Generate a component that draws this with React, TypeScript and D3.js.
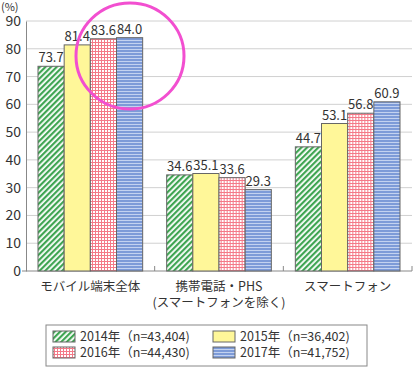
import React, { useEffect, useRef } from "react";
import * as d3 from "d3";

const categories = ["モバイル端末全体", "携帯電話・PHS\n(スマートフォンを除く)", "スマートフォン"];
const years = ["2014", "2015", "2016", "2017"];
const legendLabels = ["2014年（n=43,404)", "2015年（n=36,402)", "2016年（n=44,430)", "2017年（n=41,752)"];
const values2014 = [73.7, 34.6, 44.7];
const values2015 = [81.4, 35.1, 53.1];
const values2016 = [83.6, 33.6, 56.8];
const values2017 = [84.0, 29.3, 60.9];
const yTicks = [0, 10, 20, 30, 40, 50, 60, 70, 80, 90];

const FONT = "'Noto Sans CJK JP', 'Noto Sans', sans-serif";

export default function App() {
  const ref = useRef<SVGSVGElement>(null);

  useEffect(() => {
    const svg = d3.select(ref.current);
    svg.selectAll("*").remove();

    const width = 414;
    const height = 368;
    const margin = { top: 21, right: 2, bottom: 97, left: 26 };
    const innerHeight = height - margin.top - margin.bottom;

    const series = [values2014, values2015, values2016, values2017];
    const fills = ["url(#pGreen)", "#fff799", "url(#pRed)", "url(#pBlue)"];

    // patterns
    const defs = svg.append("defs");
    const pg = defs.append("pattern").attr("id", "pGreen").attr("patternUnits", "userSpaceOnUse")
      .attr("width", 4).attr("height", 4).attr("patternTransform", "rotate(45)");
    pg.append("rect").attr("width", 4).attr("height", 4).attr("fill", "#ffffff");
    pg.append("rect").attr("width", 2.2).attr("height", 4).attr("fill", "#3fa552");

    const pr = defs.append("pattern").attr("id", "pRed").attr("patternUnits", "userSpaceOnUse")
      .attr("width", 3).attr("height", 3);
    pr.append("rect").attr("width", 3).attr("height", 3).attr("fill", "#ffffff");
    pr.append("rect").attr("width", 3).attr("height", 1).attr("fill", "#f47a88");
    pr.append("rect").attr("width", 1).attr("height", 3).attr("fill", "#f47a88");

    const pb = defs.append("pattern").attr("id", "pBlue").attr("patternUnits", "userSpaceOnUse")
      .attr("width", 3).attr("height", 3);
    pb.append("rect").attr("width", 3).attr("height", 3).attr("fill", "#7d9bd8");
    pb.append("rect").attr("y", 1).attr("width", 3).attr("height", 1).attr("fill", "#c3d2f0");

    const x0 = d3.scaleBand().domain(categories).range([margin.left, width - margin.right]).padding(0);
    const step = x0.bandwidth();
    const x1 = d3.scaleBand().domain(years).range([12, step - 12]).padding(0);
    const y = d3.scaleLinear().domain([0, 90]).range([margin.top + innerHeight, margin.top]);

    // gridlines
    svg.append("g").selectAll("line").data(yTicks.filter(t => t > 0)).enter().append("line")
      .attr("x1", margin.left).attr("x2", width - margin.right)
      .attr("y1", d => y(d)).attr("y2", d => y(d))
      .attr("stroke", "#d0d0d0").attr("stroke-width", 1);

    // y axis
    const yAxis = svg.append("g").attr("transform", `translate(${margin.left},0)`)
      .call(d3.axisLeft(y).tickValues(yTicks).tickSize(0).tickPadding(5));
    yAxis.select(".domain").attr("stroke", "#888");
    yAxis.selectAll("text").attr("font-size", 14).attr("font-family", FONT).attr("fill", "#333");

    // x axis
    const xAxis = svg.append("g").attr("transform", `translate(0,${y(0)})`);
    xAxis.append("line").attr("x1", margin.left - 4).attr("x2", width - margin.right)
      .attr("y1", 0).attr("y2", 0).attr("stroke", "#888");
    xAxis.selectAll(".tk").data(categories.slice(1).concat(["end"])).enter().append("line")
      .attr("x1", (d, i) => margin.left + step * (i + 1)).attr("x2", (d, i) => margin.left + step * (i + 1))
      .attr("y1", -5).attr("y2", 0).attr("stroke", "#888");

    // bars
    const groups = svg.append("g").selectAll("g").data(categories).enter().append("g")
      .attr("transform", d => `translate(${x0(d)},0)`);
    groups.each(function (cat, ci) {
      const g = d3.select(this);
      years.forEach((yr, si) => {
        const v = series[si][ci];
        g.append("rect")
          .attr("x", x1(yr)!)
          .attr("y", y(v))
          .attr("width", x1.bandwidth())
          .attr("height", y(0) - y(v))
          .attr("fill", fills[si])
          .attr("stroke", "#666")
          .attr("stroke-width", 1);
        g.append("text")
          .attr("x", x1(yr)! + x1.bandwidth() / 2)
          .attr("y", y(v) - 4)
          .attr("text-anchor", "middle")
          .attr("font-size", 13)
          .attr("font-family", FONT)
          .attr("fill", "#333")
          .text(v.toFixed(1));
      });
    });

    // category labels
    categories.forEach(cat => {
      const lines = cat.split("\n");
      lines.forEach((ln, li) => {
        svg.append("text")
          .attr("x", x0(cat)! + step / 2)
          .attr("y", 291 + li * 16)
          .attr("text-anchor", "middle")
          .attr("font-size", 12.5)
          .attr("font-family", FONT)
          .attr("fill", "#333")
          .text(ln);
      });
    });

    // "(%)"
    svg.append("text").attr("x", 1).attr("y", 11).attr("font-size", 11)
      .attr("font-family", FONT).attr("fill", "#333").text("(%)");

    // legend
    svg.append("rect").attr("x", 46).attr("y", 325).attr("width", 321).attr("height", 41)
      .attr("fill", "#fff").attr("stroke", "#888");
    legendLabels.forEach((lb, i) => {
      const col = i % 2;
      const row = Math.floor(i / 2);
      const lx = 53 + col * 160;
      const ly = 331 + row * 16;
      svg.append("rect").attr("x", lx).attr("y", ly).attr("width", 22).attr("height", 11)
        .attr("fill", fills[i]).attr("stroke", "#666");
      svg.append("text").attr("x", lx + 27).attr("y", ly + 10).attr("font-size", 12.5)
        .attr("font-family", FONT).attr("fill", "#333").text(lb);
    });

    // annotation circle
    svg.append("ellipse").attr("cx", 130).attr("cy", 56).attr("rx", 54).attr("ry", 53)
      .attr("fill", "none").attr("stroke", "#f24fd0").attr("stroke-width", 3);
  }, []);

  return (
    <svg ref={ref} width={414} height={368} style={{ position: "absolute", left: 0, top: 0 }} />
  );
}
